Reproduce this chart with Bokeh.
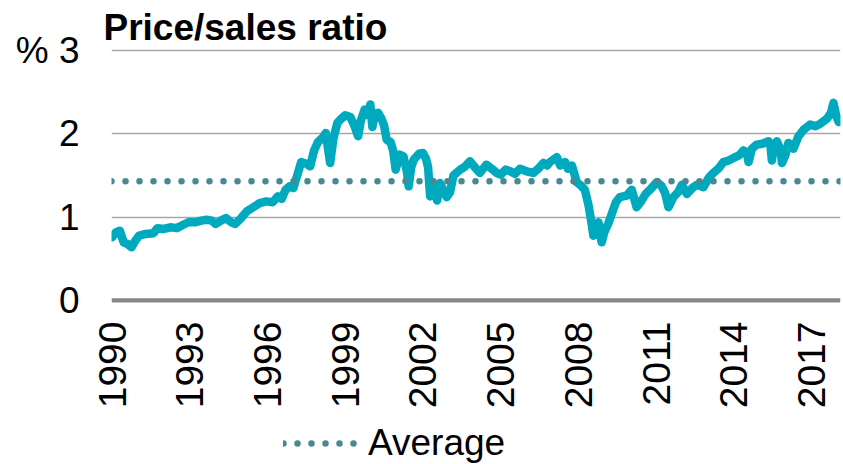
import math
from bokeh.plotting import figure
from bokeh.layouts import column
from bokeh.models import Range1d, FixedTicker, Span, Legend, LegendItem
from bokeh.embed import file_html
from bokeh.resources import INLINE

# ---- data ----
years = [
    1990.00, 1990.15, 1990.30, 1990.45, 1990.60, 1990.75, 1990.90, 1991.05, 1991.30, 1991.60,
    1991.75, 1992.00, 1992.25, 1992.50, 1992.75, 1992.95, 1993.20, 1993.45, 1993.65, 1993.85,
    1994.00, 1994.20, 1994.40, 1994.60, 1994.75, 1994.95, 1995.20, 1995.45, 1995.70, 1995.95,
    1996.20, 1996.40, 1996.55, 1996.70, 1996.85, 1997.00, 1997.15, 1997.30, 1997.50, 1997.65,
    1997.80, 1997.95, 1998.15, 1998.25, 1998.35, 1998.42, 1998.55, 1998.70, 1998.85, 1999.00,
    1999.20, 1999.35, 1999.50, 1999.60, 1999.75, 1999.90, 1999.97, 2000.05, 2000.15, 2000.27,
    2000.40, 2000.50, 2000.60, 2000.75, 2000.85, 2000.95, 2001.10, 2001.25, 2001.38, 2001.45,
    2001.55, 2001.65, 2001.85, 2002.00, 2002.12, 2002.20, 2002.28, 2002.40, 2002.55, 2002.66,
    2002.80, 2002.92, 2003.05, 2003.18, 2003.44, 2003.60, 2003.82, 2004.00, 2004.20, 2004.45,
    2004.66, 2004.85, 2005.00, 2005.20, 2005.37, 2005.55, 2005.75, 2006.00, 2006.26, 2006.45,
    2006.65, 2006.80, 2006.90, 2007.17, 2007.30, 2007.49, 2007.60, 2007.75, 2007.94, 2008.10,
    2008.25, 2008.39, 2008.50, 2008.58, 2008.68, 2008.78, 2008.90, 2009.00, 2009.15, 2009.30,
    2009.45, 2009.60, 2009.87, 2010.06, 2010.25, 2010.40, 2010.60, 2010.77, 2011.03, 2011.20,
    2011.35, 2011.48, 2011.67, 2011.85, 2012.00, 2012.19, 2012.40, 2012.58, 2012.83, 2013.05,
    2013.21, 2013.40, 2013.60, 2013.80, 2013.99, 2014.20, 2014.37, 2014.50, 2014.57, 2014.70,
    2014.89, 2015.10, 2015.34, 2015.42, 2015.47, 2015.55, 2015.66, 2015.80, 2015.86, 2016.00,
    2016.11, 2016.30, 2016.50, 2016.70, 2016.95, 2017.15, 2017.34, 2017.60, 2017.75, 2017.85,
    2017.95, 2018.05, 2018.12,
]
price_sales = [
    0.76, 0.82, 0.84, 0.70, 0.68, 0.64, 0.72, 0.78, 0.80, 0.81,
    0.87, 0.86, 0.88, 0.87, 0.91, 0.94, 0.94, 0.96, 0.97, 0.96,
    0.92, 0.96, 0.99, 0.94, 0.92, 0.98, 1.07, 1.12, 1.17, 1.19,
    1.18, 1.25, 1.22, 1.33, 1.37, 1.35, 1.50, 1.66, 1.64, 1.61,
    1.80, 1.90, 1.96, 2.01, 1.80, 1.65, 1.95, 2.13, 2.18, 2.22,
    2.20, 2.10, 1.97, 2.15, 2.29, 2.22, 2.35, 2.08, 2.24, 2.25,
    2.18, 2.10, 1.93, 1.90, 1.80, 1.57, 1.75, 1.73, 1.55, 1.37,
    1.60, 1.69, 1.76, 1.77, 1.70, 1.60, 1.25, 1.35, 1.20, 1.41,
    1.32, 1.24, 1.30, 1.50, 1.57, 1.60, 1.67, 1.60, 1.53, 1.63,
    1.58, 1.53, 1.51, 1.57, 1.55, 1.52, 1.58, 1.55, 1.53, 1.58,
    1.65, 1.62, 1.66, 1.72, 1.62, 1.66, 1.58, 1.62, 1.42, 1.38,
    1.33, 1.15, 0.95, 0.78, 0.80, 0.94, 0.70, 0.82, 0.92, 1.05,
    1.18, 1.24, 1.26, 1.33, 1.12, 1.18, 1.28, 1.33, 1.42, 1.38,
    1.29, 1.12, 1.24, 1.30, 1.39, 1.28, 1.35, 1.39, 1.36, 1.48,
    1.53, 1.58, 1.66, 1.68, 1.71, 1.74, 1.80, 1.78, 1.66, 1.82,
    1.87, 1.88, 1.91, 1.85, 1.68, 1.85, 1.91, 1.82, 1.65, 1.75,
    1.89, 1.82, 1.97, 2.05, 2.11, 2.09, 2.12, 2.18, 2.25, 2.37,
    2.22, 2.14, 2.18,
]
average_value = 1.43
x_ticks = [1990, 1993, 1996, 1999, 2002, 2005, 2008, 2011, 2014, 2017]
y_ticks = [0, 1, 2, 3]
title_text = "Price/sales ratio"
legend_label = "Average"

FONT = "Liberation Sans"
FS = "37px"
X0, X1 = 1989.98, 2018.12
LINE_COLOR = "#00AABE"
AVG_COLOR = "#4A8992"

p = figure(width=843, height=420, output_backend="svg", toolbar_location=None,
           x_range=Range1d(X0, X1), y_range=Range1d(-0.02, 3.02),
           min_border_left=111, min_border_right=3, min_border_top=48,
           min_border_bottom=118, title=title_text)
p.outline_line_color = None
p.background_fill_color = "white"
p.border_fill_color = "white"

# title
p.title.text_font = FONT
p.title.text_font_size = FS
p.title.text_font_style = "bold"
p.title.text_color = "#000000"
p.title.align = "left"
p.title.offset = -8
p.title.standoff = 1

# grid
p.xgrid.visible = False
p.ygrid.ticker = FixedTicker(ticks=[1, 2, 3])
p.ygrid.grid_line_color = "#A6A6A6"
p.ygrid.grid_line_width = 1.6

# zero line
p.add_layout(Span(location=0, dimension="width", line_color="#888888", line_width=5))

# series
p.line(years, price_sales, line_color=LINE_COLOR, line_width=8.5, line_join="round", line_cap="round")
p.line([X0, X1], [average_value, average_value], line_color=AVG_COLOR, line_width=6.5,
       line_dash="0 14", line_cap="round")

# axes
xa = p.xaxis[0]
xa.ticker = FixedTicker(ticks=x_ticks)
xa.major_label_orientation = math.pi / 2
xa.axis_line_color = None
xa.major_tick_line_color = None
xa.minor_tick_line_color = None
xa.major_tick_out = 0
xa.major_label_standoff = 19
xa.major_label_text_font = FONT
xa.major_label_text_font_size = "39px"
xa.major_label_text_color = "#000000"

ya = p.yaxis[0]
ya.ticker = FixedTicker(ticks=y_ticks)
ya.major_label_overrides = {3: "% 3"}
ya.axis_line_color = None
ya.major_tick_line_color = None
ya.minor_tick_line_color = None
ya.major_tick_out = 0
ya.major_label_standoff = 32
ya.major_label_text_font = FONT
ya.major_label_text_font_size = FS
ya.major_label_text_color = "#000000"

# legend strip below the chart
lg = figure(width=843, height=44, output_backend="svg", toolbar_location=None,
            x_range=Range1d(0, 1), y_range=Range1d(0, 1),
            min_border_left=0, min_border_right=0, min_border_top=0, min_border_bottom=0)
lg.axis.visible = False
lg.grid.visible = False
lg.outline_line_color = None
lg_r = lg.line([0, 1], [average_value + 10, average_value + 10], line_color=AVG_COLOR,
               line_width=6.5, line_dash="0 14", line_cap="round")
legend = Legend(items=[LegendItem(label=legend_label, renderers=[lg_r])],
                location=(172, 0), orientation="horizontal",
                glyph_width=75, glyph_height=30, label_height=30, label_standoff=10,
                padding=0, margin=0, spacing=0,
                border_line_color=None, background_fill_alpha=0,
                label_text_font=FONT, label_text_font_size=FS, label_text_color="#000000")
lg.add_layout(legend, "center")

layout = column(p, lg, spacing=0)
open("out.html", "w").write(file_html(layout, INLINE))
